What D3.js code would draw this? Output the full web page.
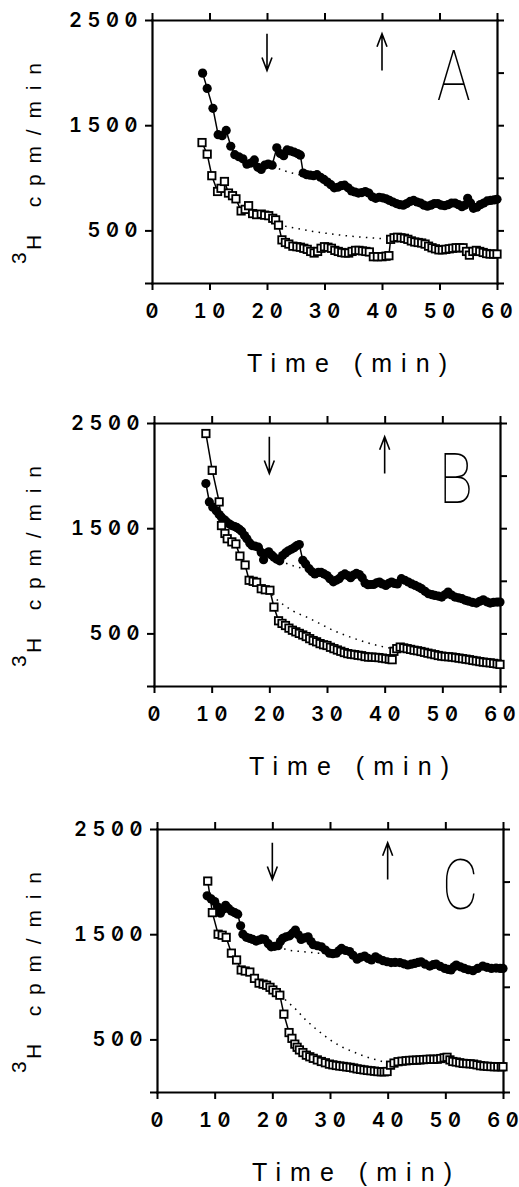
<!DOCTYPE html>
<html>
<head>
<meta charset="utf-8">
<script src="https://cdn.jsdelivr.net/npm/d3@7"></script>
<style>
  body { margin: 0; background: #fff; }
  svg { display: block; }
</style>
</head>
<body>
<script>
// ---- data: [time (min), 3H cpm/min] ----
var panelNames = ["A", "B", "C"];
var xTicks = [0, 10, 20, 30, 40, 50, 60];
var yTicksLeft = [0, 500, 1500, 2500];
var yTickLabels = [500, 1500, 2500];
var yTicksRight = [0, 500, 1000, 1500, 2000, 2500];
var arrowTimes = [20, 40];
var arrowDir = ["down", "up"];
var arrowSpan = [2020, 2370];

var aCircles = [[8.8,1995],[9.6,1850],[10.6,1660],[11.5,1410],[12.2,1400],[12.9,1450],[13.7,1300],[14.4,1220],[15.1,1200],[15.8,1180],[16.5,1130],[17.2,1140],[17.8,1170],[18.4,1100],[19.0,1080],[19.6,1120],[20.2,1130],[20.9,1120],[21.7,1285],[22.3,1230],[22.9,1210],[23.5,1265],[24.1,1255],[24.7,1245],[25.3,1230],[25.8,1215],[26.3,1045],[26.9,1030],[27.5,1025],[28.1,1020],[28.7,1030],[29.3,1005],[29.9,985],[30.5,960],[31.1,935],[31.7,905],[32.3,910],[32.9,925],[33.5,930],[34.1,905],[34.7,875],[35.3,865],[35.9,855],[36.5,860],[37.1,870],[37.7,855],[38.3,820],[38.9,805],[39.5,815],[40.1,810],[40.7,800],[41.3,785],[41.9,770],[42.5,755],[43.1,745],[43.7,740],[44.3,755],[44.9,775],[45.5,785],[46.1,770],[46.7,760],[47.3,740],[47.9,730],[48.5,740],[49.1,755],[49.7,755],[50.3,740],[50.9,735],[51.5,745],[52.1,760],[52.7,760],[53.3,745],[53.9,725],[54.4,740],[54.9,805],[55.4,760],[55.9,710],[56.5,720],[57.1,745],[57.7,760],[58.3,780],[58.9,785],[59.5,790],[60.0,795]];
var aSquares = [[8.7,1335],[9.6,1225],[10.4,1020],[11.4,870],[12.0,900],[12.6,965],[13.3,855],[14.0,830],[14.6,800],[15.5,685],[16.2,700],[16.8,735],[17.5,660],[18.2,650],[19.0,655],[19.6,645],[20.3,640],[21.0,615],[21.5,600],[22.0,550],[22.6,410],[23.2,385],[23.8,370],[24.5,350],[25.2,345],[25.8,340],[26.4,330],[27.0,320],[27.6,300],[28.2,285],[28.8,300],[29.4,330],[30.0,345],[30.6,340],[31.2,330],[31.8,310],[32.4,300],[33.0,290],[33.6,285],[34.2,285],[34.8,300],[35.4,310],[36.0,310],[36.6,305],[37.2,300],[37.8,295],[38.5,250],[39.2,250],[40.0,250],[40.7,255],[41.2,260],[41.5,415],[42.1,430],[42.7,435],[43.3,430],[43.9,425],[44.5,415],[45.1,400],[45.7,390],[46.3,385],[46.9,380],[47.5,370],[48.1,350],[48.7,335],[49.3,325],[49.9,315],[50.5,315],[51.1,320],[51.7,325],[52.3,330],[52.9,335],[53.5,335],[54.1,335],[54.7,300],[55.2,265],[55.8,300],[56.4,310],[57.0,300],[57.6,290],[58.2,280],[58.8,275],[59.4,275],[60.0,275]];
var aCircleGap = [[21.0,1115],[22.5,1075],[24.0,1050],[25.5,1030],[27.0,1010],[28.5,990],[29.5,975]];
var aSquareGap = [[22.0,555],[24.0,530],[26.0,510],[28.0,490],[30.0,475],[32.0,460],[34.0,448],[36.0,438],[38.0,430],[40.0,422],[41.3,418]];

var bCircles = [[9.0,1925],[9.6,1750],[10.2,1700],[10.8,1665],[11.3,1630],[11.7,1605],[12.2,1580],[12.6,1560],[13.1,1540],[13.5,1525],[14.0,1515],[14.4,1505],[14.8,1490],[15.2,1470],[15.7,1430],[16.1,1400],[16.6,1360],[17.0,1335],[17.5,1330],[18.1,1320],[18.6,1270],[19.0,1200],[19.5,1260],[19.9,1275],[20.4,1245],[20.8,1225],[21.3,1205],[21.8,1190],[22.3,1240],[22.8,1265],[23.3,1285],[23.8,1300],[24.3,1315],[24.8,1335],[25.2,1345],[25.8,1195],[26.3,1160],[26.9,1115],[27.4,1085],[27.9,1065],[28.5,1080],[29.0,1080],[29.5,1065],[30.0,1050],[30.5,1020],[31.1,990],[31.6,1005],[32.1,1020],[32.6,1050],[33.1,1065],[33.6,1050],[34.1,1030],[34.6,1055],[35.1,1070],[35.6,1060],[36.1,1030],[36.6,980],[37.1,963],[37.6,965],[38.1,966],[38.6,980],[39.1,988],[39.6,970],[40.2,956],[40.7,975],[41.2,988],[41.7,975],[42.2,970],[42.9,1020],[43.5,1005],[44.1,988],[44.7,970],[45.3,956],[45.9,940],[46.4,925],[47.0,900],[47.6,877],[48.2,868],[48.7,861],[49.3,855],[49.9,845],[50.5,870],[51.0,893],[51.6,865],[52.2,845],[52.8,838],[53.4,830],[54.0,815],[54.5,807],[55.2,795],[55.9,788],[56.5,805],[57.1,820],[57.7,800],[58.3,788],[58.9,795],[59.5,798],[60.0,798]];
var bSquares = [[9.0,2400],[10.1,2050],[11.3,1750],[11.7,1525],[12.3,1450],[12.7,1400],[13.5,1370],[14.2,1350],[14.9,1235],[15.8,1150],[16.5,1005],[17.2,995],[17.8,985],[18.6,925],[19.3,915],[20.1,910],[20.8,750],[21.6,620],[22.2,595],[22.8,575],[23.4,550],[24.0,530],[24.6,515],[25.2,500],[25.8,485],[26.4,470],[27.0,450],[27.6,432],[28.2,420],[28.8,403],[29.4,392],[30.0,385],[30.6,368],[31.2,355],[31.8,342],[32.4,330],[33.0,318],[33.6,308],[34.2,302],[34.8,298],[35.4,292],[36.0,288],[36.6,280],[37.2,275],[37.8,275],[38.4,272],[39.0,270],[39.6,265],[40.2,260],[40.8,255],[41.3,250],[41.6,330],[42.1,355],[42.7,370],[43.3,362],[43.9,355],[44.5,348],[45.1,340],[45.7,335],[46.3,328],[46.9,320],[47.5,312],[48.1,305],[48.7,298],[49.3,290],[49.9,284],[50.5,280],[51.1,278],[51.7,275],[52.3,270],[52.9,265],[53.5,260],[54.1,255],[54.7,250],[55.3,243],[55.9,238],[56.5,232],[57.1,227],[57.7,223],[58.3,220],[58.9,215],[59.5,210],[60.0,205]];
var bCircleGap = [[21.8,1190],[23.0,1165],[24.5,1135],[26.0,1115],[27.0,1105]];
var bSquareGap = [[20.5,870],[21.5,810],[23.0,750],[24.5,700],[26.5,655],[28.5,600],[31.0,530],[33.5,475],[35.7,433],[38.0,395],[40.0,370],[41.5,355]];

var cCircles = [[8.7,1865],[9.4,1835],[10.0,1810],[10.5,1760],[11.0,1700],[11.5,1740],[11.9,1775],[12.4,1745],[12.9,1720],[13.5,1705],[14.0,1690],[14.5,1580],[14.9,1500],[15.5,1470],[16.1,1460],[16.6,1450],[17.2,1435],[17.7,1445],[18.2,1455],[18.7,1450],[19.3,1410],[19.8,1380],[20.4,1385],[21.0,1390],[21.4,1430],[21.8,1460],[22.4,1475],[23.0,1485],[23.5,1510],[24.0,1540],[24.5,1495],[25.0,1450],[25.6,1465],[26.2,1475],[26.7,1430],[27.1,1400],[27.8,1390],[28.5,1380],[29.2,1350],[29.9,1320],[30.5,1315],[31.1,1320],[31.6,1345],[32.0,1365],[32.7,1345],[33.4,1335],[34.0,1300],[34.7,1262],[35.3,1280],[36.0,1292],[36.6,1270],[37.2,1255],[37.9,1285],[38.5,1265],[39.2,1248],[39.9,1238],[40.6,1230],[41.3,1232],[42.1,1230],[42.8,1218],[43.5,1207],[44.1,1215],[44.7,1222],[45.3,1232],[45.8,1238],[46.5,1215],[47.3,1197],[47.9,1210],[48.4,1216],[49.1,1195],[49.9,1175],[50.5,1165],[51.0,1160],[51.5,1190],[51.9,1207],[52.6,1190],[53.3,1175],[54.0,1162],[54.8,1153],[55.6,1175],[56.5,1197],[57.2,1185],[58.0,1175],[58.8,1178],[59.5,1175],[60.0,1175]];
var cSquares = [[8.8,2005],[9.6,1705],[10.6,1500],[11.3,1490],[12.0,1470],[12.9,1320],[13.8,1255],[14.6,1160],[15.3,1150],[16.1,1140],[16.9,1080],[17.7,1035],[18.4,1025],[19.0,1015],[19.6,995],[20.1,970],[20.7,945],[21.3,920],[22.0,740],[22.9,565],[23.4,510],[23.9,455],[24.3,425],[24.7,400],[25.3,375],[25.9,350],[26.5,335],[27.1,320],[27.8,305],[28.5,290],[29.2,278],[29.9,265],[30.5,258],[31.1,252],[31.7,247],[32.3,243],[32.9,238],[33.5,234],[34.1,228],[34.7,220],[35.3,215],[35.9,210],[36.5,205],[37.1,202],[37.7,198],[38.3,194],[38.9,192],[39.4,192],[39.9,195],[40.5,255],[41.1,275],[41.8,288],[42.5,293],[43.2,297],[43.8,300],[44.4,302],[45.0,303],[45.6,305],[46.2,308],[46.8,310],[47.4,312],[48.0,311],[48.6,312],[49.2,318],[49.8,325],[50.3,330],[50.8,305],[51.3,290],[51.9,285],[52.5,278],[53.1,272],[53.7,270],[54.3,268],[54.9,265],[55.5,258],[56.1,250],[56.7,247],[57.3,244],[57.9,242],[58.5,240],[59.1,240],[59.7,240],[60.0,240]];
var cCircleGap = [[21.0,1390],[22.5,1350],[24.0,1340],[26.0,1330],[28.0,1320],[29.5,1315]];
var cSquareGap = [[21.3,920],[22.4,870],[24.2,780],[25.5,700],[27.1,620],[28.8,545],[30.5,477],[32.2,425],[34.0,382],[35.5,350],[37.0,320],[38.5,300],[40.3,265]];

var circleSets = [aCircles, bCircles, cCircles];
var squareSets = [aSquares, bSquares, cSquares];
var circleGaps = [aCircleGap, bCircleGap, cCircleGap];
var squareGaps = [aSquareGap, bSquareGap, cSquareGap];

// ---- layout ----
var width = 519, height = 1187;
var frames = [
  {left: 152, top: 20, w: 345, h: 263},
  {left: 154, top: 423, w: 346, h: 263},
  {left: 157, top: 829, w: 346, h: 263}
];
var numFont = "Inter, 'DejaVu Sans', sans-serif";
var txtFont = "'Liberation Sans', Arial, sans-serif";
var pitch = 18.5; // spacing between digit centres, the figure's type is widely tracked

var svg = d3.select("body").append("svg").attr("width", width).attr("height", height);

// place each digit on its own x so the wide tracking adds no trailing space
function spaced(sel, label, cx) {
  var n = label.length;
  var xs = d3.range(n).map(function(k) { return (cx + (k - (n - 1) / 2) * pitch).toFixed(1); });
  sel.attr("x", xs.join(" ")).attr("text-anchor", "middle").text(label);
}

panelNames.forEach(function(name, i) {
  var f = frames[i];
  var x = d3.scaleLinear().domain([0, 60]).range([f.left, f.left + f.w]);
  var y = d3.scaleLinear().domain([0, 2500]).range([f.top + f.h, f.top]);
  var g = svg.append("g").attr("class", "panel" + name);

  // frame + ticks
  g.append("g").attr("transform", "translate(0," + (f.top + f.h) + ")")
    .call(d3.axisBottom(x).tickValues(xTicks).tickSize(7).tickSizeOuter(0).tickFormat(""));
  g.append("g").attr("transform", "translate(0," + f.top + ")")
    .call(d3.axisTop(x).tickValues(xTicks).tickSize(7).tickSizeOuter(0).tickFormat(""));
  g.append("g").attr("transform", "translate(" + f.left + ",0)")
    .call(d3.axisLeft(y).tickValues(yTicksLeft).tickSize(7).tickSizeOuter(0).tickFormat(""));
  g.append("g").attr("transform", "translate(" + (f.left + f.w) + ",0)")
    .call(d3.axisRight(y).tickValues(yTicksRight).tickSize(7).tickSizeOuter(0).tickFormat(""));

  g.selectAll(".domain").attr("stroke", "#000").attr("stroke-width", 2.2).attr("stroke-linecap", "square");
  g.selectAll(".tick line").attr("stroke", "#000").attr("stroke-width", 2);

  // tick labels
  g.selectAll("text.xl").data(xTicks).enter().append("text")
    .attr("class", "xl")
    .attr("y", f.top + f.h + 35)
    .each(function(d) { spaced(d3.select(this), String(d), x(d)); });
  g.selectAll("text.yl").data(yTickLabels).enter().append("text")
    .attr("class", "yl")
    .attr("y", function(d) { return y(d) + 7; })
    .each(function(d) {
      var s = String(d);
      spaced(d3.select(this), s, f.left - 21 - (s.length - 1) * pitch / 2);
    });
  g.selectAll("text.xl, text.yl")
    .attr("font-family", numFont).attr("font-size", 20).attr("font-weight", 600)
    .attr("fill", "#000").style("font-feature-settings", "'zero' 1, 'tnum' 1");

  // axis titles
  g.append("text")
    .attr("transform", "translate(41," + (f.top + 230) + ") rotate(-90)")
    .attr("font-family", txtFont).attr("font-size", 21)
    .attr("textLength", 187).attr("lengthAdjust", "spacing")
    .text("H cpm/min");
  g.append("text")
    .attr("transform", "translate(41," + (f.top + 244) + ") rotate(-90)")
    .attr("y", -15)
    .attr("font-family", txtFont).attr("font-size", 21)
    .text("3");
  g.append("text")
    .attr("x", f.left + 95).attr("y", f.top + f.h + 89)
    .attr("font-family", txtFont).attr("font-size", 25)
    .attr("textLength", 200).attr("lengthAdjust", "spacing")
    .text("Time (min)");

  // panel letter
  g.append("text")
    .attr("transform", "translate(" + (f.left + 285) + "," + (f.top + 80) + ") scale(0.8,1)")
    .attr("font-family", "Roboto, 'Noto Sans', sans-serif").attr("font-weight", 100)
    .attr("font-size", 70)
    .text(name);

  // arrows
  arrowTimes.forEach(function(t, k) {
    var ax = x(t), yTop = y(arrowSpan[1]), yBot = y(arrowSpan[0]);
    var tipY = arrowDir[k] === "down" ? yBot : yTop;
    var s = arrowDir[k] === "down" ? -1 : 1;
    g.append("path")
      .attr("d", "M" + ax + "," + yTop + "V" + yBot +
        "M" + (ax - 5) + "," + (tipY + s * 13) + "L" + ax + "," + tipY + "L" + (ax + 5) + "," + (tipY + s * 13))
      .attr("fill", "none").attr("stroke", "#000").attr("stroke-width", 1.6);
  });

  var line = d3.line().x(function(d) { return x(d[0]); }).y(function(d) { return y(d[1]); });

  // dotted traces
  [circleGaps[i], squareGaps[i]].forEach(function(gap) {
    g.append("path").attr("d", line(gap))
      .attr("fill", "none").attr("stroke", "#000").attr("stroke-width", 1.5)
      .attr("stroke-dasharray", "1.5,5.3");
  });

  // filled circles series
  g.append("path").attr("d", line(circleSets[i]))
    .attr("fill", "none").attr("stroke", "#000").attr("stroke-width", 1.5);
  g.selectAll("circle.dot").data(circleSets[i]).enter().append("circle")
    .attr("class", "dot")
    .attr("cx", function(d) { return x(d[0]); })
    .attr("cy", function(d) { return y(d[1]); })
    .attr("r", 4.6).attr("fill", "#000");

  // open squares series
  g.append("path").attr("d", line(squareSets[i]))
    .attr("fill", "none").attr("stroke", "#000").attr("stroke-width", 1.5);
  g.selectAll("rect.sq").data(squareSets[i]).enter().append("rect")
    .attr("class", "sq")
    .attr("x", function(d) { return x(d[0]) - 3.7; })
    .attr("y", function(d) { return y(d[1]) - 3.7; })
    .attr("width", 7.4).attr("height", 7.4)
    .attr("fill", "#fff").attr("stroke", "#000").attr("stroke-width", 1.8);
});
</script>
</body>
</html>
